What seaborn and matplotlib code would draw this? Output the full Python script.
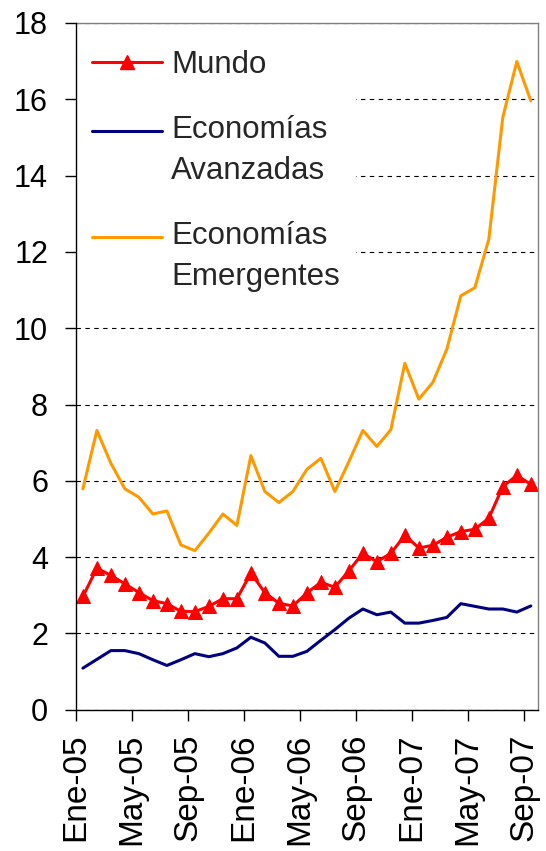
import numpy as np
import pandas as pd
import seaborn as sns
import matplotlib.pyplot as plt
import matplotlib.transforms as mtransforms
from matplotlib.lines import Line2D

# meses Ene-05 .. Sep-07
nombres_mes = ['Ene', 'Feb', 'Mar', 'Abr', 'May', 'Jun', 'Jul', 'Ago', 'Sep', 'Oct', 'Nov', 'Dic']
meses = [f'{m}-{a:02d}' for a in (5, 6, 7) for m in nombres_mes][:33]

mundo = [2.97, 3.71, 3.52, 3.30, 3.07, 2.86, 2.78, 2.58, 2.57, 2.71, 2.91,
         2.91, 3.58, 3.07, 2.79, 2.72, 3.06, 3.34, 3.21, 3.64, 4.10, 3.88,
         4.10, 4.57, 4.24, 4.31, 4.52, 4.67, 4.73, 5.02, 5.85, 6.14, 5.91]
avanzadas = [1.09, 1.32, 1.55, 1.55, 1.47, 1.31, 1.16, 1.31, 1.47, 1.39, 1.47,
             1.62, 1.90, 1.75, 1.40, 1.40, 1.53, 1.82, 2.10, 2.40, 2.64, 2.49,
             2.56, 2.27, 2.27, 2.34, 2.42, 2.78, 2.71, 2.64, 2.64, 2.56, 2.72]
emergentes = [5.79, 7.32, 6.46, 5.79, 5.57, 5.13, 5.21, 4.32, 4.17, 4.63, 5.13,
              4.83, 6.66, 5.72, 5.43, 5.72, 6.30, 6.59, 5.72, 6.50, 7.32, 6.90,
              7.34, 9.08, 8.14, 8.58, 9.45, 10.85, 11.06, 12.33, 15.53, 16.99, 15.96]

df = pd.DataFrame({'idx': np.arange(len(meses)), 'mes': meses,
                   'Mundo': mundo, 'Avanzadas': avanzadas, 'Emergentes': emergentes})

sns.set_theme(style='white')
plt.rcParams['font.family'] = ['Liberation Sans', 'DejaVu Sans']

ROJO = '#FF0000'
AZUL = '#000080'
NARANJA = '#FF9900'

fig = plt.figure(figsize=(5.46, 8.51), dpi=100)
ax = fig.add_axes([0.139, 0.166, 0.846, 0.807])

sns.lineplot(data=df, x='idx', y='Emergentes', color=NARANJA, lw=2.2, ax=ax)
sns.lineplot(data=df, x='idx', y='Avanzadas', color=AZUL, lw=2.2, ax=ax)
sns.lineplot(data=df, x='idx', y='Mundo', color=ROJO, lw=2.2, marker='^',
             markersize=10, markeredgecolor=ROJO, ax=ax)

ax.set_xlim(-0.5, len(meses) - 0.5)
ax.set_ylim(0, 18)
ax.set_yticks(np.arange(0, 19, 2))
ax.set_yticklabels([str(v) for v in range(0, 19, 2)], fontsize=22)
pos = np.arange(0, len(meses), 4)
ax.set_xticks(pos - 0.5)
ax.set_xticklabels([meses[i] for i in pos], rotation=90, fontsize=24)
desplaza = mtransforms.ScaledTranslation(0.04, 0, fig.dpi_scale_trans)
for lab in ax.get_xticklabels():
    lab.set_transform(lab.get_transform() + desplaza)
ax.set_xlabel('')
ax.set_ylabel('')

ax.tick_params(axis='both', direction='out', length=8, width=1, color='black',
               left=True, bottom=True, labelcolor='black')
ax.tick_params(axis='y', pad=12)
ax.tick_params(axis='x', pad=9)

ax.yaxis.grid(True, color='black', linestyle=(0, (4, 4)), lw=0.8)
ax.xaxis.grid(False)
for s in ['left', 'bottom']:
    ax.spines[s].set_color('black')
    ax.spines[s].set_linewidth(1)
    ax.spines[s].set_zorder(6)
for s in ['top', 'right']:
    ax.spines[s].set_color('#808080')
    ax.spines[s].set_linewidth(1)

handles = [Line2D([], [], color=ROJO, lw=2.2, marker='^', markersize=10),
           Line2D([], [], color=AZUL, lw=2.2),
           Line2D([], [], color=NARANJA, lw=2.2)]
etiquetas = ['Mundo', 'Economías\nAvanzadas', 'Economías\nEmergentes']
leg = ax.legend(handles, etiquetas, loc='upper left', bbox_to_anchor=(0, 0.983),
                fontsize=22.5, frameon=True, facecolor='white', edgecolor='none',
                framealpha=1, fancybox=False, handlelength=2.25, handletextpad=0.3,
                borderpad=0.5, labelspacing=1.12, borderaxespad=0)
leg.set_zorder(5)
for t in leg.get_texts():
    t.set_linespacing(1.48)
# la linea de la leyenda va junto a la primera linea del texto
for h in leg.legend_handles[1:]:
    h.set_ydata(np.asarray(h.get_ydata()) + 14.8)

fig.savefig('out.png', dpi=100)
